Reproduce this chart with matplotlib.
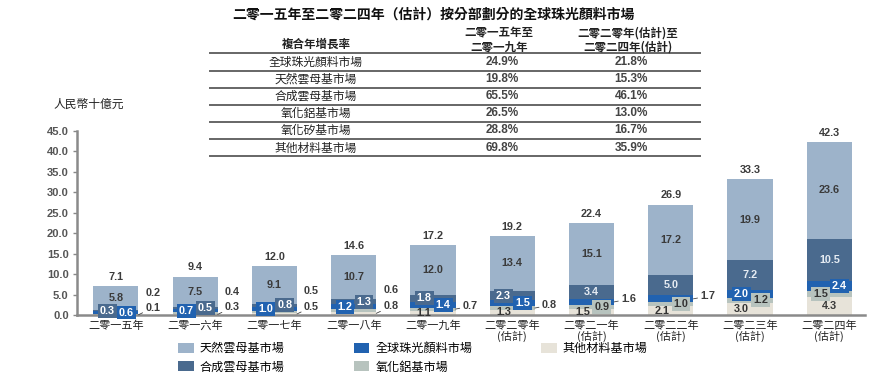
import matplotlib
matplotlib.use('Agg')
import matplotlib.pyplot as plt
from matplotlib.lines import Line2D
import numpy as np

plt.rcParams['font.family'] = ['Noto Sans CJK TC', 'DejaVu Sans']

# ---------------- data ----------------
years = ['二零一五年', '二零一六年', '二零一七年', '二零一八年', '二零一九年',
         '二零二零年\n(估計)', '二零二一年\n(估計)', '二零二二年\n(估計)',
         '二零二三年\n(估計)', '二零二四年\n(估計)']
natural = [5.8, 7.5, 9.1, 10.7, 12.0, 13.4, 15.1, 17.2, 19.9, 23.6]      # 天然雲母基市場
synthetic = [0.3, 0.5, 0.8, 1.3, 1.8, 2.3, 3.4, 5.0, 7.2, 10.5]          # 合成雲母基市場
blue_seg = [0.6, 0.7, 1.0, 1.2, 1.4, 1.5, 1.6, 1.7, 2.0, 2.4]            # bright blue series
gray_seg = [0.2, 0.4, 0.5, 0.6, 0.7, 0.8, 0.9, 1.0, 1.2, 1.5]            # gray-green series
other = [0.1, 0.3, 0.5, 0.8, 1.1, 1.3, 1.5, 2.1, 3.0, 4.3]               # 其他材料基市場
totals = [7.1, 9.4, 12.0, 14.6, 17.2, 19.2, 22.4, 26.9, 33.3, 42.3]

table_rows = ['全球珠光顏料市場', '天然雲母基市場', '合成雲母基市場',
              '氧化鋁基市場', '氧化矽基市場', '其他材料基市場']
cagr_15_19 = ['24.9%', '19.8%', '65.5%', '26.5%', '28.8%', '69.8%']
cagr_20_24 = ['21.8%', '15.3%', '46.1%', '13.0%', '16.7%', '35.9%']

title = '二零一五年至二零二四年（估計）按分部劃分的全球珠光顏料市場'
unit_label = '人民幣十億元'
table_head = '複合年增長率'
col_heads = ['二零一五年至\n二零一九年', '二零二零年(估計)至\n二零二四年(估計)']

# ---------------- style ----------------
C_NAT = '#9db3ca'
C_SYN = '#4a6a8e'
C_BLUE = '#2162b0'
C_GRAY = '#b7c3be'
C_OTHER = '#e7e3d9'
NUMFONT = 'Liberation Sans'
NUMCOL = '#3c3c3c'

# label placement modes: c=centre, l=left box, r=right box, o=outside, ou=outside upper
LAYOUT = {
    'natural':   ['c'] * 10,
    'synthetic': ['l', 'r', 'r', 'r', 'l', 'l', 'c', 'c', 'c', 'c'],
    'blue':      ['r', 'l', 'l', 'l', 'r', 'r', 'o', 'o', 'l', 'r'],
    'gray':      ['ou', 'ou', 'ou', 'ou', 'o', 'o', 'r', 'r', 'r', 'l'],
    'other':     ['o', 'o', 'o', 'o', 'l', 'l', 'l', 'l', 'l', 'c'],
}

W, H = 881, 390
fig = plt.figure(figsize=(W / 100, H / 100), dpi=100)
ax = fig.add_axes([77 / W, 75 / H, (865 - 77) / W, (315 - 131) / H])

x = np.arange(len(years))
bw = 0.57

series = [
    ('other', other, C_OTHER, '其他材料基市場', '#333333'),
    ('gray', gray_seg, C_GRAY, '氧化鋁基市場', '#333333'),
    ('blue', blue_seg, C_BLUE, '全球珠光顏料市場', 'white'),
    ('synthetic', synthetic, C_SYN, '合成雲母基市場', 'white'),
    ('natural', natural, C_NAT, '天然雲母基市場', '#333333'),
]

bottom = np.zeros(len(years))
handles = {}
mids = {}
for key, vals, col, lab, tcol in series:
    vals = np.array(vals)
    b = ax.bar(x, vals, bw, bottom=bottom, color=col, edgecolor='none', label=lab, zorder=2)
    handles[key] = b
    mids[key] = bottom + vals / 2
    bottom = bottom + vals

txt_kw = dict(fontfamily=NUMFONT, fontweight='bold', fontsize=7.8, zorder=5)

for key, vals, col, lab, tcol in series:
    for i, v in enumerate(vals):
        mode = LAYOUT[key][i]
        s = f'{v:.1f}'
        y = mids[key][i]
        if mode == 'c':
            c = '#3a3a3a' if key in ('natural', 'other') else '#e6ecf3'
            ax.text(x[i], y, s, ha='center', va='center', color=c, **txt_kw)
        elif mode in ('l', 'r'):
            dx = -0.11 if mode == 'l' else 0.13
            if key == 'other':
                ax.text(x[i] + dx, y, s, ha='center', va='center', color='#333333', **txt_kw)
            else:
                ax.text(x[i] + dx, y, s, ha='center', va='center', color=tcol,
                        bbox=dict(boxstyle='square,pad=0.18', fc=col, ec='none'), **txt_kw)
        elif mode == 'o':
            dy = 5 if i < 4 else 2
            ax.annotate(s, xy=(x[i] + bw / 2, y), xytext=(5, dy), textcoords='offset points',
                        ha='left', va='center', color=NUMCOL,
                        arrowprops=dict(arrowstyle='-', color='#444444', lw=0.6,
                                        shrinkA=0, shrinkB=0), **txt_kw)
        elif mode == 'ou':
            ax.annotate(s, xy=(x[i] + bw / 2, y), xytext=(5, 15), textcoords='offset points',
                        ha='left', va='center', color=NUMCOL, **txt_kw)

for i, t in enumerate(totals):
    ax.annotate(f'{t:.1f}', xy=(x[i], bottom[i]), xytext=(0, 3), textcoords='offset points',
                ha='center', va='bottom', color=NUMCOL, **txt_kw)

ax.set_xlim(-0.49, 9.45)
ax.set_ylim(0, 45)
ax.set_yticks(np.arange(0, 45.1, 5))
ax.set_yticklabels([f'{t:.1f}' for t in np.arange(0, 45.1, 5)], fontfamily=NUMFONT,
                   fontweight='bold', fontsize=8, color='#555555')
ax.set_xticks(x)
ax.set_xticklabels(years, fontsize=8, color='#222222', linespacing=0.95)
ax.tick_params(axis='x', length=0, pad=4)
ax.tick_params(axis='y', length=3, width=1, color='#888888', pad=3)
for sp in ('top', 'right'):
    ax.spines[sp].set_visible(False)
for sp in ('left', 'bottom'):
    ax.spines[sp].set_color('#8a8a8a')
    ax.spines[sp].set_linewidth(1.8)
ax.patch.set_visible(False)

# title and unit
fig.text(433 / W, 1 - 15 / H, title, ha='center', va='center', fontsize=10, fontweight='bold',
         color='#111111')
fig.text(53 / W, 1 - 104 / H, unit_label, ha='left', va='center', fontsize=8.5, color='#222222')

# table
fig.text(316 / W, 1 - 44 / H, table_head, ha='center', va='center', fontsize=8.3,
         fontweight='bold', color='#222222')
for cx, ch in zip((499, 628), col_heads):
    fig.text(cx / W, 1 - 40 / H, ch, ha='center', va='center', fontsize=8.3,
             fontweight='bold', color='#222222', linespacing=1.05)
row_y = [62, 79, 96, 113, 130, 148]
for ry, name, a, b in zip(row_y, table_rows, cagr_15_19, cagr_20_24):
    fig.text(316 / W, 1 - ry / H, name, ha='center', va='center', fontsize=8.5, color='#222222')
    fig.text(502 / W, 1 - ry / H, a, ha='center', va='center', fontsize=8.5,
             fontfamily=NUMFONT, fontweight='bold', color='#444444')
    fig.text(631 / W, 1 - ry / H, b, ha='center', va='center', fontsize=8.5,
             fontfamily=NUMFONT, fontweight='bold', color='#444444')
for ly in (53, 71, 88, 104.5, 121.5, 138.5, 156):
    fig.add_artist(Line2D([210 / W, 700 / W], [1 - ly / H, 1 - ly / H], color='#666666', lw=1.4))

# legend
order = ['natural', 'synthetic', 'blue', 'gray', 'other']
fig.legend([handles[k] for k in order], [handles[k].get_label() for k in order],
           ncol=3, loc='upper left', bbox_to_anchor=(178 / W, 1 - 342 / H), frameon=False,
           fontsize=8.7, handlelength=1.3, handleheight=0.9, handletextpad=0.5,
           columnspacing=5.7, labelspacing=0.45, borderaxespad=0, borderpad=0)

fig.savefig('out.png', dpi=100)
